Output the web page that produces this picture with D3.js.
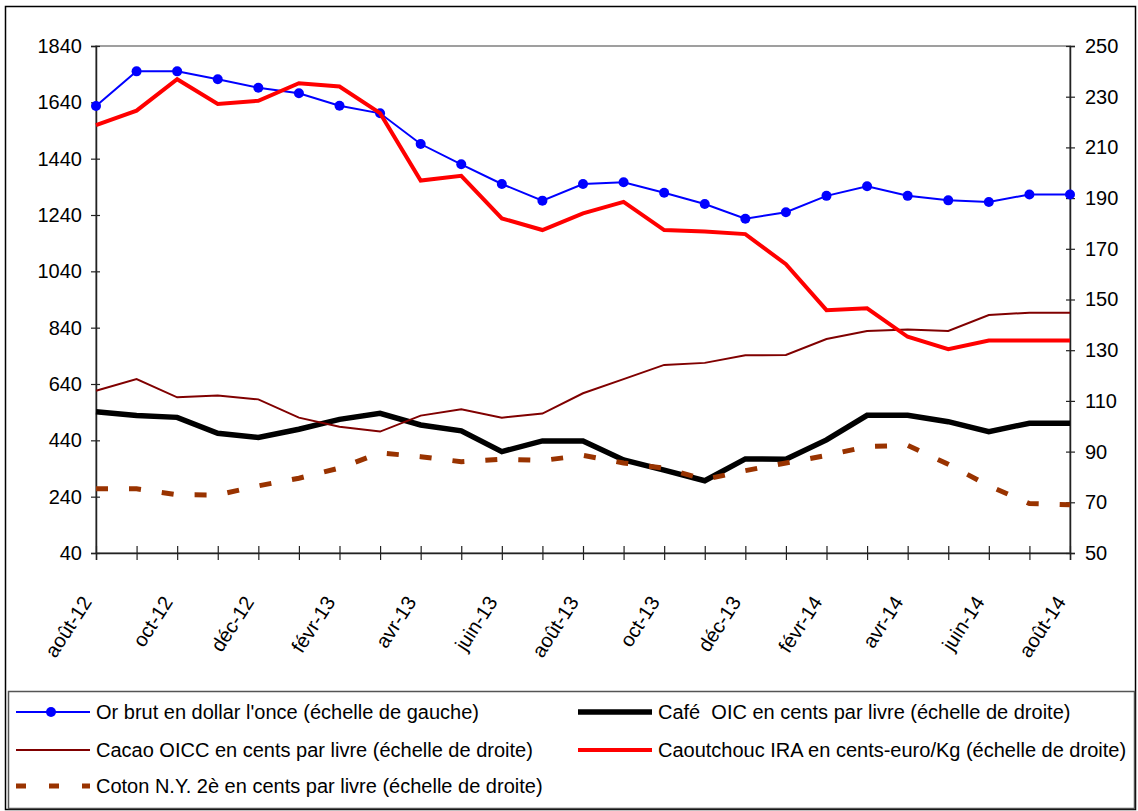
<!DOCTYPE html>
<html>
<head>
<meta charset="utf-8">
<script src="https://cdn.jsdelivr.net/npm/d3@7"></script>
<style>
  body { margin: 0; background: #fff; }
  svg { font-family: "Liberation Sans", Arial, sans-serif; }
</style>
</head>
<body>
<svg id="chart" width="1138" height="811"></svg>
<script>
// months, août-12 to août-14
var months = ["août-12","sept-12","oct-12","nov-12","déc-12","janv-13","févr-13","mars-13","avr-13","mai-13","juin-13","juil-13",
              "août-13","sept-13","oct-13","nov-13","déc-13","janv-14","févr-14","mars-14","avr-14","mai-14","juin-14","juil-14","août-14"];
var shownLabels = ["août-12","oct-12","déc-12","févr-13","avr-13","juin-13","août-13","oct-13","déc-13","févr-14","avr-14","juin-14","août-14"];

// left scale (dollar l'once)
var orBrut = [1627,1750,1750,1722,1692,1672,1628,1601,1492,1420,1350,1291,1350,1356,1319,1279,1227,1250,1308,1342,1308,1292,1286,1313,1313];
// right scale
var cafe = [105.7,104.2,103.5,97.2,95.6,98.8,102.7,105.1,100.5,98.2,90,94.2,94.2,86.7,82.7,78.5,87.1,87,94.6,104.3,104.3,101.8,97.9,101.2,101.2];
var cacao = [114,118.6,111.4,112.1,110.6,103.4,99.8,97.9,104.2,106.7,103.4,105,113,118.6,124.2,125,128,128.1,134.4,137.6,138.2,137.6,143.9,144.8,144.8];
var caoutchouc = [218.8,224.5,236.9,227.1,228.4,235.3,234,223.5,196.9,198.8,182,177.4,184,188.5,177.4,176.8,175.8,163.9,145.8,146.5,135.3,130.4,133.8,133.8,133.8];
var coton = [75.3,75.3,73,72.9,76.5,79.5,83.5,89.5,88,86,87,86.5,88.5,85.5,83.5,79,82.5,85.5,88.5,92,92.5,85,76.5,69.5,69];

var leftTicks = [40,240,440,640,840,1040,1240,1440,1640,1840];
var rightTicks = [50,70,90,110,130,150,170,190,210,230,250];

var legendNames = ["Or brut en dollar l'once (échelle de gauche)",
                   "Café  OIC en cents par livre (échelle de droite)",
                   "Cacao OICC en cents par livre (échelle de droite)",
                   "Caoutchouc IRA en cents-euro/Kg (échelle de droite)",
                   "Coton N.Y. 2è en cents par livre (échelle de droite)"];

var svg = d3.select("#chart");
var plotLeft = 96, plotRight = 1070, plotTop = 46, plotBottom = 553;

var x = d3.scalePoint().domain(months).range([plotLeft, plotRight]);
var yL = d3.scaleLinear().domain([40, 1840]).range([plotBottom, plotTop]);
var yR = d3.scaleLinear().domain([50, 250]).range([plotBottom, plotTop]);

// outer border
svg.append("rect")
  .attr("x", 5.5).attr("y", 6.5)
  .attr("width", 1130).attr("height", 803)
  .attr("fill", "none").attr("stroke", "black").attr("stroke-width", 1.5);

// plot area border
svg.append("rect")
  .attr("x", plotLeft).attr("y", plotTop)
  .attr("width", plotRight - plotLeft).attr("height", plotBottom - plotTop)
  .attr("fill", "none").attr("stroke", "#808080").attr("stroke-width", 1.5);

// left axis
var gL = svg.append("g")
  .attr("transform", "translate(" + plotLeft + ",0)")
  .call(d3.axisLeft(yL).tickValues(leftTicks).tickFormat(d3.format("d")).tickSize(5).tickPadding(9));
gL.selectAll(".tick line").attr("x1", 4).attr("x2", -5);

// right axis
var gR = svg.append("g")
  .attr("transform", "translate(" + plotRight + ",0)")
  .call(d3.axisRight(yR).tickValues(rightTicks).tickFormat(d3.format("d")).tickSize(5).tickPadding(10));
gR.selectAll(".tick line").attr("x1", -4).attr("x2", 5);

// bottom axis
var gB = svg.append("g")
  .attr("transform", "translate(0," + plotBottom + ")")
  .call(d3.axisBottom(x).tickSize(7).tickFormat(function(d) {
    return shownLabels.indexOf(d) >= 0 ? d : "";
  }));
gB.selectAll(".tick line").attr("y1", -7).attr("y2", 7);

[gL, gR, gB].forEach(function(g) {
  g.selectAll("path.domain").attr("stroke", "#222").attr("stroke-width", 1.5);
  g.selectAll(".tick line").attr("stroke", "#222").attr("stroke-width", 1.2);
  g.selectAll(".tick text").attr("font-size", 20).attr("fill", "black")
    .style("font-family", "'Liberation Sans', Arial, sans-serif");
});

gB.selectAll(".tick text")
  .attr("text-anchor", "end")
  .attr("y", 0).attr("dy", 0)
  .attr("transform", "translate(-4,49) rotate(-57)");

function lineFor(scale) {
  return d3.line()
    .x(function(d, i) { return x(months[i]); })
    .y(function(d) { return scale(d); });
}

// gold
svg.append("path").datum(orBrut)
  .attr("fill", "none").attr("stroke", "#0000FF").attr("stroke-width", 2)
  .attr("d", lineFor(yL));
svg.selectAll("circle.or").data(orBrut).enter().append("circle")
  .attr("class", "or")
  .attr("cx", function(d, i) { return x(months[i]); })
  .attr("cy", function(d) { return yL(d); })
  .attr("r", 5).attr("fill", "#0000FF");

// coffee
svg.append("path").datum(cafe)
  .attr("fill", "none").attr("stroke", "black").attr("stroke-width", 5.5)
  .attr("d", lineFor(yR));

// cocoa
svg.append("path").datum(cacao)
  .attr("fill", "none").attr("stroke", "#800000").attr("stroke-width", 2)
  .attr("d", lineFor(yR));

// rubber
svg.append("path").datum(caoutchouc)
  .attr("fill", "none").attr("stroke", "#FF0000").attr("stroke-width", 4)
  .attr("d", lineFor(yR));

// cotton
svg.append("path").datum(coton)
  .attr("fill", "none").attr("stroke", "#993300").attr("stroke-width", 5)
  .attr("stroke-dasharray", "12,21")
  .attr("d", lineFor(yR));

// legend
svg.append("rect")
  .attr("x", 8.5).attr("y", 691.5)
  .attr("width", 1126).attr("height", 117)
  .attr("fill", "none").attr("stroke", "#555").attr("stroke-width", 1.5);

var legendPos = [[16, 712], [578, 712], [16, 750], [578, 750], [16, 786]];
var legendStyle = [
  { color: "#0000FF", width: 2, dash: null, marker: true },
  { color: "black", width: 5.5, dash: null },
  { color: "#800000", width: 2, dash: null },
  { color: "#FF0000", width: 4, dash: null },
  { color: "#993300", width: 5, dash: "10,23" }
];

legendNames.forEach(function(name, i) {
  var p = legendPos[i], s = legendStyle[i];
  var g = svg.append("g").attr("transform", "translate(" + p[0] + "," + p[1] + ")");
  g.append("line")
    .attr("x1", 0).attr("x2", 74).attr("y1", 0).attr("y2", 0)
    .attr("stroke", s.color).attr("stroke-width", s.width)
    .attr("stroke-dasharray", s.dash);
  if (s.marker) {
    g.append("circle").attr("cx", 35).attr("cy", 0).attr("r", 5).attr("fill", s.color);
  }
  g.append("text")
    .attr("x", 80).attr("y", 0).attr("dy", "0.35em")
    .attr("font-size", 20)
    .style("white-space", "pre")
    .text(name);
});
</script>
</body>
</html>
